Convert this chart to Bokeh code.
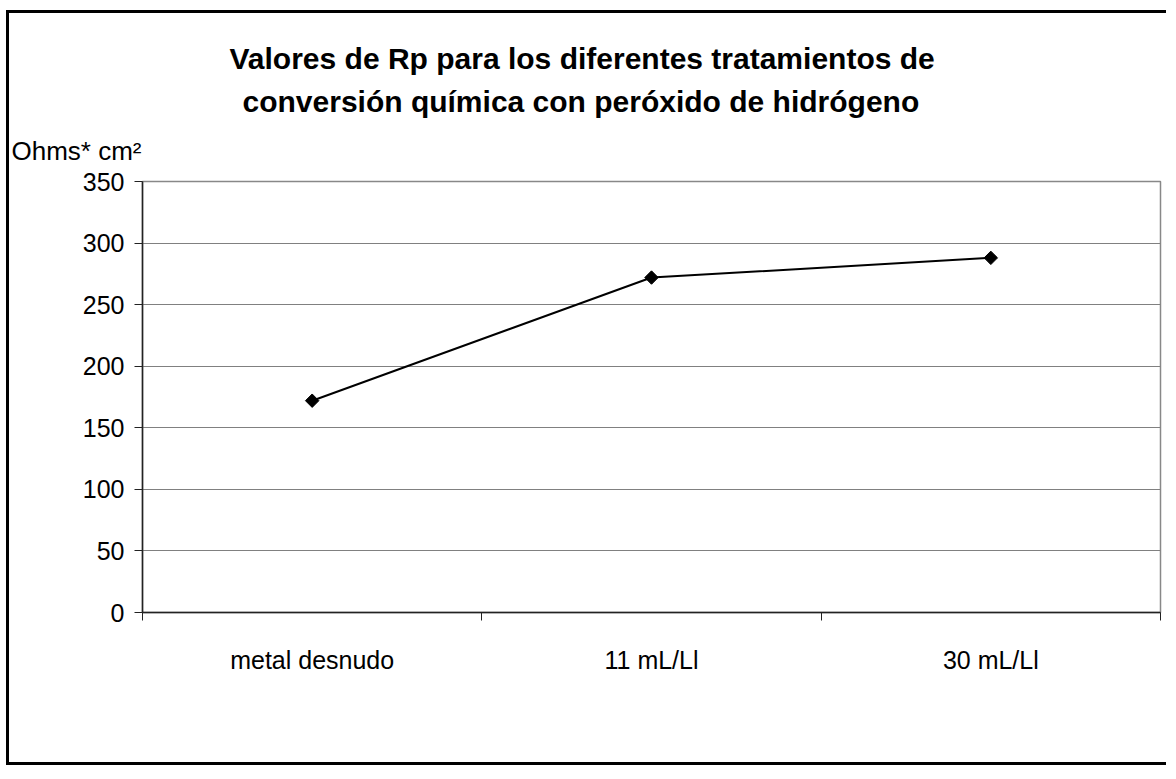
import math
from bokeh.plotting import figure
from bokeh.models import FixedTicker, Title, ColumnDataSource
from bokeh.embed import file_html
from bokeh.resources import INLINE

categories = ["metal desnudo", "11 mL/Ll", "30 mL/Ll"]
rp_values = [172, 272, 288]
y_ticks = [0, 50, 100, 150, 200, 250, 300, 350]
title_lines = ["Valores de Rp para los diferentes tratamientos de",
               "conversión química con peróxido de hidrógeno"]
y_label = "Ohms* cm²"

FONT = "Liberation Sans"

xs = [i + 0.5 for i in range(len(categories))]
src = ColumnDataSource(dict(x=xs, y=rp_values, cat=categories))

p = figure(width=1160, height=755, output_backend="svg", toolbar_location=None,
           x_range=(0, len(categories)), y_range=(0, 350), title=None,
           min_border_left=133, min_border_right=9, min_border_top=168,
           min_border_bottom=156)
p.styles = {"border-left": "3px solid black", "border-top": "3px solid black",
            "border-bottom": "3px solid black", "margin-left": "6px",
            "margin-top": "10px"}
p.background_fill_color = "white"
p.border_fill_color = "white"
p.outline_line_color = "#888888"
p.outline_line_width = 1.5

p.xgrid.grid_line_color = None
p.ygrid.ticker = FixedTicker(ticks=y_ticks)
p.ygrid.grid_line_color = "#808080"
p.ygrid.grid_line_width = 1

p.yaxis.ticker = FixedTicker(ticks=y_ticks)
p.yaxis.axis_line_color = "#222222"
p.yaxis.axis_line_width = 1.5
p.yaxis.major_tick_line_color = "#222222"
p.yaxis.major_tick_in = 0
p.yaxis.major_tick_out = 8
p.yaxis.minor_tick_line_color = None
p.yaxis.major_label_text_font = FONT
p.yaxis.major_label_text_font_size = "25px"
p.yaxis.major_label_text_color = "black"
p.yaxis.major_label_standoff = 10

p.xaxis.ticker = FixedTicker(ticks=xs, minor_ticks=list(range(len(categories) + 1)))
p.xaxis.major_label_overrides = {x: c for x, c in zip(xs, categories)}
p.xaxis.axis_line_color = "#222222"
p.xaxis.axis_line_width = 1.5
p.xaxis.major_tick_line_color = None
p.xaxis.major_tick_in = 0
p.xaxis.major_tick_out = 0
p.xaxis.minor_tick_line_color = "#222222"
p.xaxis.minor_tick_in = 0
p.xaxis.minor_tick_out = 8
p.xaxis.major_label_text_font = FONT
p.xaxis.major_label_text_font_size = "25px"
p.xaxis.major_label_text_color = "black"
p.xaxis.major_label_standoff = 25

p.line("x", "y", source=src, line_color="black", line_width=2)
p.scatter("x", "y", source=src, marker="square", angle=math.pi / 4, size=9.5,
          fill_color="black", line_color="black")

# nearest to the frame first
p.add_layout(Title(text=y_label, align="left", offset=-131, standoff=32,
                   text_font=FONT, text_font_style="normal",
                   text_font_size="26px", text_color="black"), "above")
p.add_layout(Title(text=title_lines[1], align="left", offset=100, standoff=0,
                   text_font=FONT, text_font_style="bold",
                   text_font_size="30px", text_color="black"), "above")
p.add_layout(Title(text=title_lines[0], align="left", offset=87, standoff=16,
                   text_font=FONT, text_font_style="bold",
                   text_font_size="30px", text_color="black"), "above")

open("out.html", "w").write(file_html(p, INLINE))
